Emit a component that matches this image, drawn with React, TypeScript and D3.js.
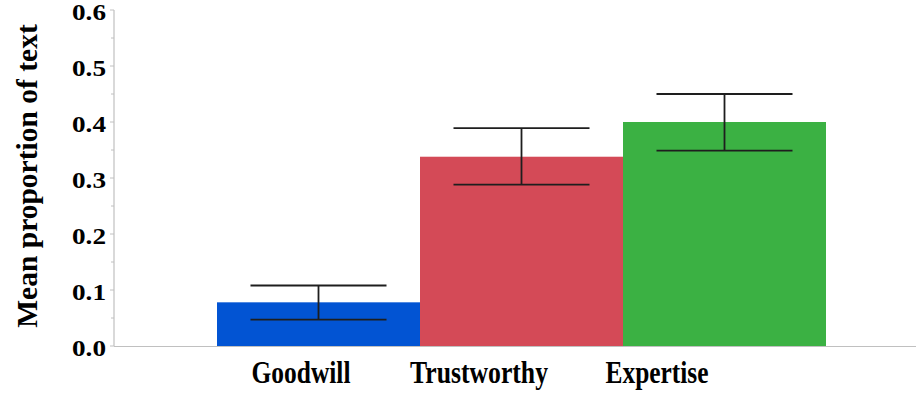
import React from "react";
import * as d3 from "d3";

const categories = ["Goodwill", "Trustworthy", "Expertise"];
const means = [0.078, 0.338, 0.4];
const errLow = [0.047, 0.288, 0.349];
const errHigh = [0.108, 0.389, 0.45];
const barColors = ["#0254d3", "#d44a57", "#3bb143"];
const yTicks = [0, 0.1, 0.2, 0.3, 0.4, 0.5, 0.6];
const labelWidths = [99, 138, 103];

const W = 916;
const H = 393;
const axisX = 114;
const baseY = 346;
const topY = 10;

export default function App() {
  const y = d3.scaleLinear().domain([0, 0.6]).range([baseY, topY]);
  const x = d3.scaleBand<string>().domain(categories).range([217, 826]).padding(0);
  const labelX = d3.scalePoint<string>().domain(categories).range([301, 657]);
  const bw = x.bandwidth();
  const capW = bw * 0.67;
  const minor = d3.range(0.05, 0.6, 0.1);
  const font = "'Liberation Serif', 'Times New Roman', serif";

  return (
    <svg
      width={W}
      height={H}
      style={{ position: "absolute", left: 0, top: 0, background: "#fff" }}
    >
      {/* bars */}
      {categories.map((c, i) => (
        <rect
          key={c}
          x={x(c)}
          y={y(means[i])}
          width={bw}
          height={baseY - y(means[i])}
          fill={barColors[i]}
        />
      ))}

      {/* error bars */}
      {categories.map((c, i) => {
        const cx = (x(c) as number) + bw / 2;
        return (
          <g key={c} stroke="#1e1e1e" strokeWidth={1.8}>
            <line x1={cx} x2={cx} y1={y(errHigh[i])} y2={y(errLow[i])} />
            <line x1={cx - capW / 2} x2={cx + capW / 2} y1={y(errHigh[i])} y2={y(errHigh[i])} />
            <line x1={cx - capW / 2} x2={cx + capW / 2} y1={y(errLow[i])} y2={y(errLow[i])} />
          </g>
        );
      })}

      {/* axes */}
      <line x1={axisX} x2={axisX} y1={topY} y2={baseY} stroke="#c0c0c0" strokeWidth={1.2} />
      <line x1={axisX} x2={W} y1={baseY + 0.5} y2={baseY + 0.5} stroke="#c0c0c0" strokeWidth={1.2} />
      {yTicks.map((t) => (
        <g key={t}>
          <line x1={axisX - 4} x2={axisX} y1={y(t)} y2={y(t)} stroke="#c0c0c0" strokeWidth={1} />
          <text
            x={106}
            y={y(t) + 10}
            textAnchor="end"
            fontFamily={font}
            fontWeight="bold"
            fontSize={23}
            textLength={34}
            lengthAdjust="spacingAndGlyphs"
            fill="#000"
          >
            {d3.format(".1f")(t)}
          </text>
        </g>
      ))}
      {minor.map((t) => (
        <line key={t} x1={axisX - 3} x2={axisX} y1={y(t)} y2={y(t)} stroke="#c0c0c0" strokeWidth={1} />
      ))}

      {/* category labels */}
      {categories.map((c, i) => (
        <text
          key={c}
          x={labelX(c)}
          y={383}
          textAnchor="middle"
          fontFamily={font}
          fontWeight="bold"
          fontSize={31}
          textLength={labelWidths[i]}
          lengthAdjust="spacingAndGlyphs"
          fill="#000"
        >
          {c}
        </text>
      ))}

      {/* y-axis title */}
      <text
        transform={`translate(36.5, ${(25 + 327) / 2}) rotate(-90)`}
        textAnchor="middle"
        fontFamily={font}
        fontWeight="bold"
        fontSize={29.5}
        fill="#000"
      >
        Mean proportion of text
      </text>
    </svg>
  );
}
